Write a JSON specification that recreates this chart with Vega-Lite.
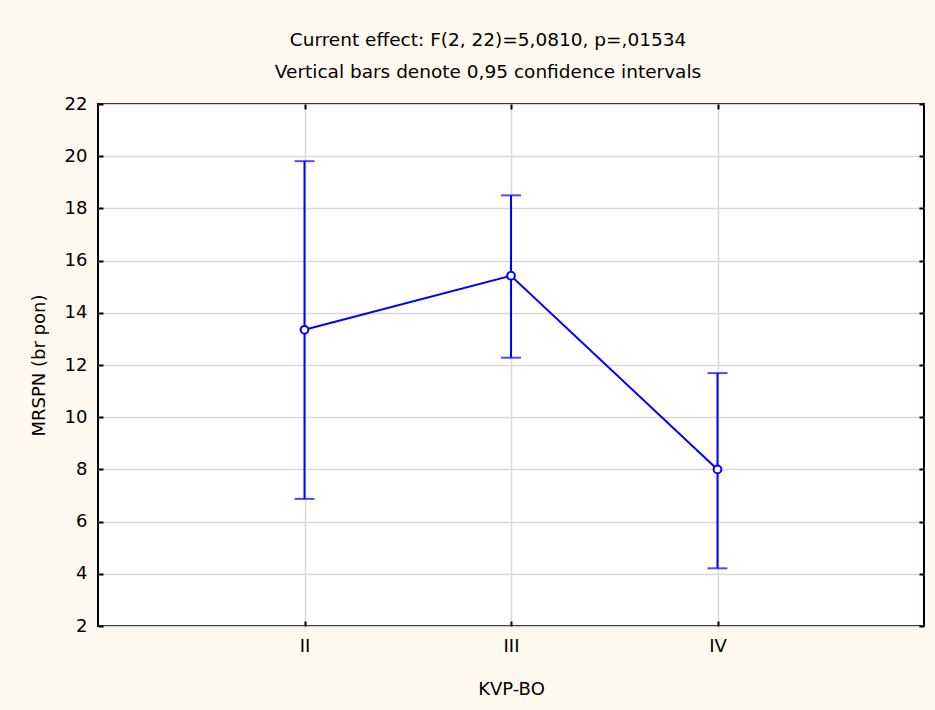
{
  "$schema": "https://vega.github.io/schema/vega-lite/v6.json",
  "width": 826,
  "height": 522,
  "autosize": {"type": "none"},
  "padding": {"left": 98, "top": 104, "right": 11, "bottom": 84},
  "background": "#FEF9EF",
  "title": {
    "text": "Current effect: F(2, 22)=5,0810, p=,01534",
    "subtitle": "Vertical bars denote 0,95 confidence intervals",
    "anchor": "middle",
    "font": "DejaVu Sans",
    "fontSize": 18.5,
    "fontWeight": "normal",
    "color": "#000000",
    "subtitleFont": "DejaVu Sans",
    "subtitleFontSize": 18.5,
    "subtitleColor": "#000000",
    "subtitlePadding": 13,
    "offset": 14,
    "dx": -23
  },
  "config": {
    "view": {"stroke": "#000000", "strokeWidth": 2, "fill": "#FFFFFF"},
    "axis": {
      "labelFont": "DejaVu Sans",
      "labelFontSize": 18,
      "labelColor": "#000000",
      "titleFont": "DejaVu Sans",
      "titleFontSize": 18,
      "titleFontWeight": "normal",
      "titleColor": "#000000",
      "gridColor": "#D9D9D9",
      "gridWidth": 1.5,
      "gridOpacity": 1,
      "tickColor": "#000000",
      "tickWidth": 2,
      "tickSize": -5,
      "domain": false
    }
  },
  "data": {
    "values": [
      {"g": "II", "mean": 13.35, "lo": 6.87, "hi": 19.81},
      {"g": "III", "mean": 15.42, "lo": 12.28, "hi": 18.5},
      {"g": "IV", "mean": 8.0, "lo": 4.21, "hi": 11.69}
    ]
  },
  "resolve": {"axis": {"x": "independent", "y": "independent"}},
  "layer": [
    {
      "mark": {"type": "rule", "color": "#0000FF", "strokeWidth": 2},
      "encoding": {
        "x": {
          "field": "g", "type": "ordinal",
          "scale": {"type": "point", "padding": 1},
          "axis": {"orient": "bottom", "title": "KVP-BO", "labelAngle": 0, "grid": true, "labelPadding": 16, "titlePadding": 25}
        },
        "y": {
          "field": "lo", "type": "quantitative",
          "scale": {"domain": [2, 22], "nice": false, "zero": false},
          "axis": {"orient": "left", "title": "MRSPN (br pon)", "values": [2,4,6,8,10,12,14,16,18,20,22], "grid": true, "labelPadding": 16, "titlePadding": 16}
        },
        "y2": {"field": "hi"}
      }
    },
    {
      "mark": {"type": "tick", "color": "#0000FF", "thickness": 2, "size": 20, "orient": "horizontal"},
      "encoding": {
        "x": {"field": "g", "type": "ordinal", "axis": {"orient": "top", "labels": false, "title": null, "grid": false}},
        "y": {"field": "lo", "type": "quantitative", "axis": {"orient": "right", "labels": false, "title": null, "grid": false, "values": [2,4,6,8,10,12,14,16,18,20,22]}}
      }
    },
    {
      "mark": {"type": "tick", "color": "#0000FF", "thickness": 2, "size": 20, "orient": "horizontal"},
      "encoding": {
        "x": {"field": "g", "type": "ordinal", "axis": null},
        "y": {"field": "hi", "type": "quantitative", "axis": null}
      }
    },
    {
      "mark": {"type": "line", "color": "#0000FF", "strokeWidth": 2},
      "encoding": {
        "x": {"field": "g", "type": "ordinal", "axis": null},
        "y": {"field": "mean", "type": "quantitative", "axis": null}
      }
    },
    {
      "mark": {"type": "point", "shape": "circle", "size": 60, "filled": false, "fill": "#FFFFFF", "fillOpacity": 1, "stroke": "#0000FF", "strokeWidth": 2, "opacity": 1},
      "encoding": {
        "x": {"field": "g", "type": "ordinal", "axis": null},
        "y": {"field": "mean", "type": "quantitative", "axis": null}
      }
    }
  ]
}
